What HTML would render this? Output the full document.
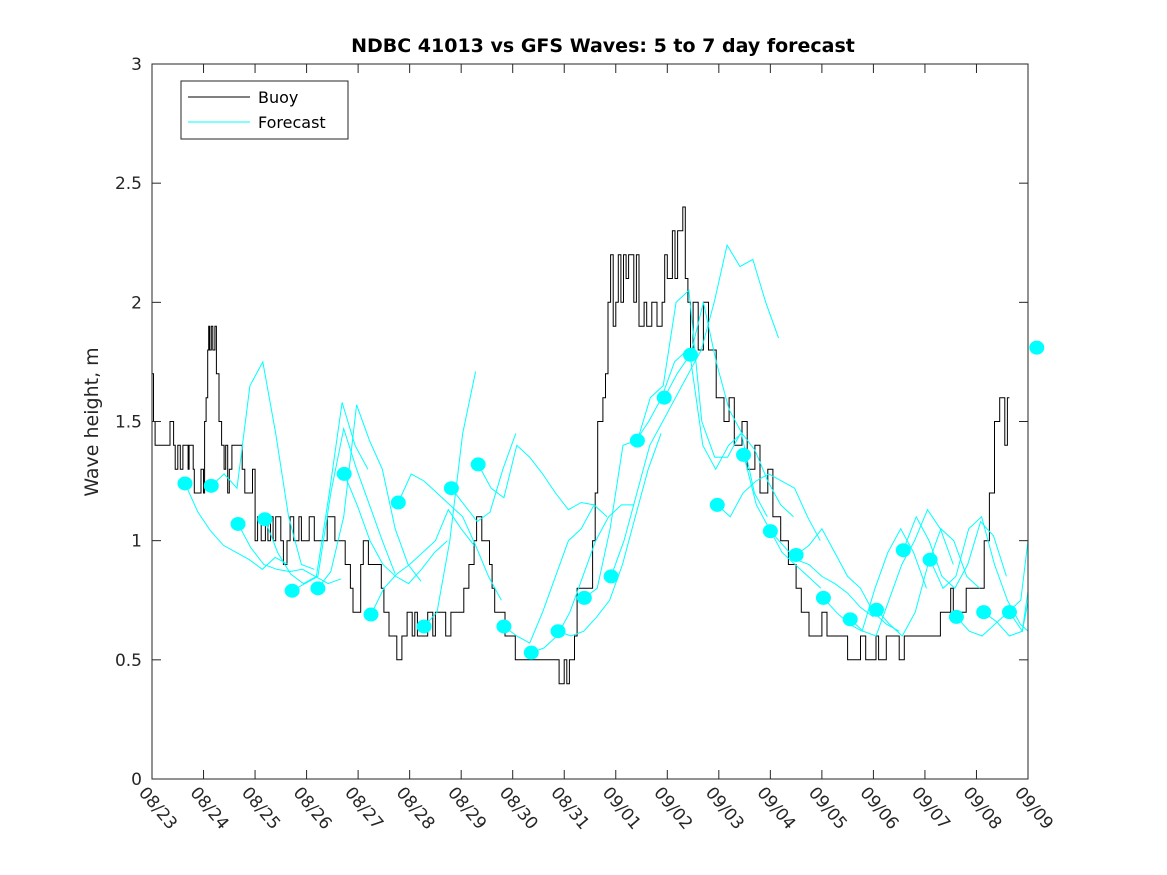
<!DOCTYPE html>
<html><head><meta charset="utf-8"><style>
body{margin:0;background:#fff;}
svg{display:block;font-family:"DejaVu Sans","Liberation Sans",sans-serif;}
</style></head><body>
<svg id="chart" width="1167" height="875">
<text x="603" y="52" text-anchor="middle" font-size="19" font-weight="bold">NDBC 41013 vs GFS Waves: 5 to 7 day forecast</text>
<text transform="translate(98,422) rotate(-90)" text-anchor="middle" font-size="19" fill="#262626">Wave height, m</text>
<defs><clipPath id="pc"><rect x="152" y="64" width="876" height="715"/></clipPath></defs>
<g id="marks"></g>
<rect x="152" y="64" width="876" height="715" fill="none" stroke="#262626" stroke-width="1"/>
<g id="axes"></g>
<g>
<rect x="181" y="81" width="167" height="58" fill="#fff" stroke="#262626" stroke-width="1"/>
<line x1="188" y1="97" x2="250" y2="97" stroke="#000" stroke-width="1"/>
<text x="258" y="103" font-size="16" fill="#000">Buoy</text>
<line x1="188" y1="122" x2="250" y2="122" stroke="#00ffff" stroke-width="1"/>
<text x="258" y="128" font-size="16" fill="#000">Forecast</text>
</g>
</svg>
<script>
const xTickLabels=["08/23","08/24","08/25","08/26","08/27","08/28","08/29","08/30","08/31","09/01","09/02","09/03","09/04","09/05","09/06","09/07","09/08","09/09"];
const yTicks=[0,0.5,1,1.5,2,2.5,3];
const yTickLabels=["0","0.5","1","1.5","2","2.5","3"];
// buoy step breakpoints (days since 08/23, value)
const buoyDays=[0,0.03,0.06,0.35,0.42,0.45,0.5,0.55,0.6,0.7,0.72,0.8,0.82,0.95,1.0,1.02,1.05,1.08,1.1,1.12,1.15,1.18,1.22,1.25,1.3,1.35,1.4,1.43,1.47,1.5,1.55,1.62,1.75,1.8,1.95,2.0,2.05,2.12,2.2,2.25,2.3,2.35,2.4,2.5,2.55,2.62,2.68,2.75,2.85,2.9,3.0,3.05,3.15,3.2,3.4,3.5,3.55,3.65,3.75,3.85,3.9,4.05,4.1,4.2,4.3,4.45,4.5,4.6,4.75,4.85,4.95,5.05,5.1,5.15,5.2,5.3,5.35,5.45,5.5,5.7,5.8,6.05,6.15,6.25,6.3,6.4,6.55,6.6,6.65,6.72,6.85,6.95,7.05,7.2,7.25,7.5,7.9,8.0,8.05,8.1,8.2,8.25,8.45,8.55,8.6,8.65,8.75,8.8,8.85,8.9,8.95,9.0,9.05,9.1,9.15,9.2,9.25,9.35,9.4,9.45,9.55,9.6,9.7,9.8,9.9,9.95,10.0,10.1,10.15,10.2,10.3,10.35,10.4,10.45,10.5,10.6,10.7,10.8,10.95,11.1,11.2,11.3,11.45,11.55,11.7,11.8,11.95,12.05,12.2,12.35,12.45,12.5,12.6,12.75,13.0,13.1,13.3,13.5,13.75,13.85,14.05,14.1,14.25,14.35,14.5,14.6,14.75,15.3,15.5,15.55,15.8,16.15,16.25,16.35,16.45,16.55,16.6,16.62,16.64,16.66,16.7,16.75];
const buoyVals=[1.7,1.5,1.4,1.5,1.4,1.3,1.4,1.3,1.4,1.3,1.4,1.3,1.2,1.3,1.2,1.5,1.6,1.8,1.9,1.8,1.9,1.8,1.9,1.7,1.5,1.4,1.3,1.4,1.2,1.3,1.4,1.4,1.3,1.2,1.3,1.0,1.1,1.0,1.1,1.0,1.1,1.0,1.1,1.0,0.9,1.0,1.1,1.0,1.1,1.0,1.0,1.1,1.0,1.0,1.1,1.1,1.0,1.0,0.9,0.8,0.7,0.9,1.0,0.9,0.9,0.8,0.7,0.6,0.5,0.6,0.7,0.6,0.7,0.6,0.6,0.6,0.7,0.6,0.7,0.6,0.7,0.8,0.9,1.0,1.1,1.0,0.9,0.8,0.7,0.7,0.6,0.6,0.5,0.5,0.5,0.5,0.4,0.5,0.4,0.5,0.6,0.8,0.8,1.0,1.2,1.5,1.6,1.7,2.0,2.2,1.9,2.0,2.2,2.0,2.2,2.1,2.2,2.0,2.2,1.9,2.0,1.9,2.0,1.9,2.0,2.2,2.1,2.3,2.1,2.3,2.4,2.1,2.0,1.8,2.0,1.8,2.0,1.8,1.6,1.5,1.6,1.4,1.5,1.3,1.4,1.2,1.3,1.1,1.0,0.9,0.9,0.8,0.7,0.6,0.7,0.6,0.6,0.5,0.6,0.5,0.6,0.5,0.6,0.6,0.5,0.6,0.6,0.7,0.8,0.7,0.8,1.0,1.2,1.5,1.6,1.4,1.6,1.6];
// forecast dots (start day, value)
const fcDays=[0.64,1.15,1.67,2.19,2.72,3.22,3.73,4.25,4.78,5.28,5.81,6.33,6.83,7.36,7.88,8.39,8.91,9.42,9.94,10.45,10.97,11.48,12.0,12.5,13.03,13.55,14.06,14.58,15.1,15.61,16.14,16.64,17.17];
const fcVals=[1.24,1.23,1.07,1.09,0.79,0.80,1.28,0.69,1.16,0.64,1.22,1.32,0.64,0.53,0.62,0.76,0.85,1.42,1.60,1.78,1.15,1.36,1.04,0.94,0.76,0.67,0.71,0.96,0.92,0.68,0.70,0.70,1.81];
// forecast trajectories: values every 0.25 day starting at each dot
const fcLines=[
[1.24,1.12,1.04,0.98,0.95,0.92,0.88,0.93,0.90],
[1.23,1.28,1.22,1.65,1.75,1.45,1.1,0.9,0.88],
[1.07,0.97,0.9,0.88,0.87,0.88,0.85,0.82,0.84],
[1.09,0.95,0.86,0.82,0.85,1.2,1.58,1.4,1.3],
[0.79,0.82,0.85,1.2,1.47,1.3,1.15,1.0,0.86],
[0.80,0.87,1.1,1.57,1.42,1.3,1.05,0.9,0.83],
[1.28,1.15,1.0,0.9,0.85,0.82,0.88,0.95,1.0],
[0.69,0.8,0.86,0.9,0.95,1.0,1.13,1.05,0.98],
[1.16,1.28,1.25,1.2,1.15,1.1,0.98,0.85,0.75],
[0.64,0.7,1.0,1.45,1.71],
[1.22,1.15,1.08,1.12,1.30,1.45],
[1.32,1.22,1.18,1.4,1.35,1.28,1.2,1.13,1.16,1.15],
[0.64,0.6,0.57,0.7,0.85,1.0,1.05,1.15,1.1],
[0.53,0.55,0.6,0.7,0.85,1.0,1.1,1.15,1.15],
[0.62,0.6,0.62,0.68,0.75,0.9,1.1,1.3,1.45],
[0.76,0.8,1.05,1.4,1.42,1.5,1.6,1.75,1.8],
[0.85,1.0,1.2,1.4,1.5,1.6,1.7,1.8,2.0,2.24,2.15,2.18,2.0,1.85],
[1.42,1.6,1.65,2.0,2.05,1.5,1.35,1.35,1.45],
[1.60,1.7,1.78,1.4,1.3,1.4,1.45,1.2,1.1],
[1.78,2.0,1.75,1.55,1.45,1.38,1.25,1.15,1.1],
[1.15,1.1,1.2,1.25,1.28,1.25,1.22,1.1,1.0],
[1.36,1.15,1.05,0.95,0.9,0.85,0.8],
[1.04,0.98,0.92,0.9,0.85,0.82,0.78,0.72,0.68],
[0.94,0.98,1.05,0.95,0.85,0.8,0.7,0.65,0.62],
[0.76,0.7,0.65,0.62,0.8,0.95,1.05,0.95,0.8],
[0.67,0.62,0.6,0.75,0.9,1.0,1.13,1.05,0.9],
[0.71,0.65,0.6,0.7,0.9,1.05,1.0,0.85,0.8],
[0.96,1.1,1.0,0.85,0.8,0.9,1.08,1.02,0.85],
[0.92,0.8,0.85,1.05,1.1,0.9,0.75,0.65,0.6],
[0.68,0.62,0.6,0.65,0.7,0.75,1.2,1.87,1.85],
[0.70,0.66,0.6,0.62,1.0,1.85,1.5,1.3,1.25],
[0.70,0.62,0.9,1.4,1.8,2.1,2.35],
[1.81]
];
const X0=152,X1=1028,Y0=779,Y1=64,DMAX=17,VMAX=3;
const xs=d=>X0+d*(X1-X0)/DMAX;
const ys=v=>Y0-v*(Y0-Y1)/VMAX;
const NS="http://www.w3.org/2000/svg";
const marks=document.getElementById('marks');
const axes=document.getElementById('axes');
function mk(tag,attrs,parent){const e=document.createElementNS(NS,tag);for(const k in attrs)e.setAttribute(k,attrs[k]);parent.appendChild(e);return e;}
const clipG=mk('g',{'clip-path':'url(#pc)'},marks);
let d='';
for(let i=0;i<buoyDays.length;i++){
  const x=xs(buoyDays[i]).toFixed(1),y=ys(buoyVals[i]).toFixed(1);
  if(i===0)d+='M'+x+' '+y;else d+='H'+x+'V'+y;
}
d+='H'+xs(16.78).toFixed(1);
const bl=mk('path',{d:d,fill:'none',stroke:'#000','stroke-width':1},clipG);


fcLines.forEach((vals,i)=>{
  if(vals.length<2)return;
  const pts=vals.map((v,j)=>xs(fcDays[i]+j*0.25).toFixed(1)+','+ys(v).toFixed(1)).join(' ');
  const pl=mk('polyline',{points:pts,fill:'none',stroke:'#00ffff','stroke-width':1},clipG);
  
  
});
fcDays.forEach((dd,i)=>{
  const c=mk('ellipse',{cx:xs(dd),cy:ys(fcVals[i]),rx:7.5,ry:7,fill:'#00ffff'},marks);
  
  
});
yTicks.forEach((v,i)=>{
  const y=ys(v);
  mk('line',{x1:X0,y1:y,x2:X0+9,y2:y,stroke:'#262626'},axes);
  mk('line',{x1:X1,y1:y,x2:X1-9,y2:y,stroke:'#262626'},axes);
  const t=mk('text',{x:X0-10,y:y+6,'text-anchor':'end','font-size':17,fill:'#262626'},axes);
  t.textContent=yTickLabels[i];
  
  
});
xTickLabels.forEach((lab,i)=>{
  const x=xs(i);
  mk('line',{x1:x,y1:Y0,x2:x,y2:Y0-9,stroke:'#262626'},axes);
  mk('line',{x1:x,y1:Y1,x2:x,y2:Y1+9,stroke:'#262626'},axes);
  const t=mk('text',{transform:'translate('+(x-14)+','+(Y0+14)+') rotate(50)','font-size':17,fill:'#262626'},axes);
  t.textContent=lab;
  
  
});
</script>
</body></html>
